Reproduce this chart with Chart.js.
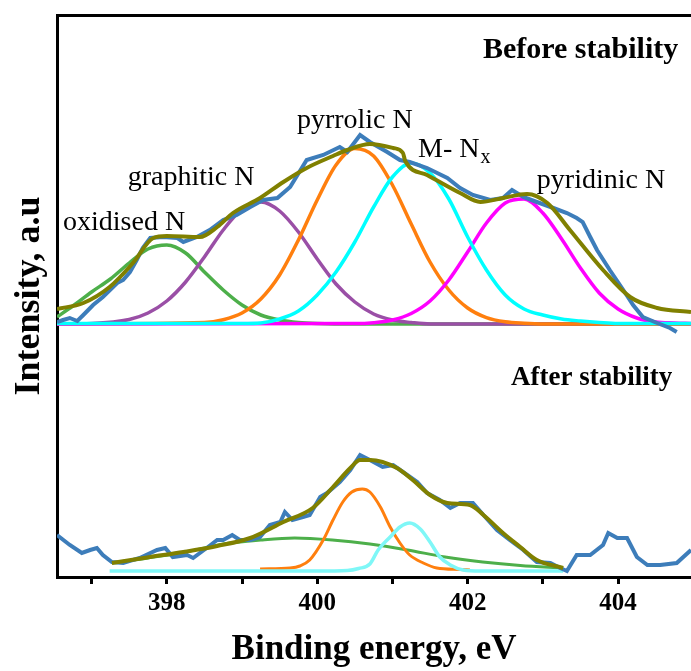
<!DOCTYPE html>
<html>
<head>
<meta charset="utf-8">
<script src="https://cdn.jsdelivr.net/npm/chart.js@4.4.1/dist/chart.umd.min.js"></script>
<style>
html,body{margin:0;padding:0;background:#ffffff;}
#wrap{width:691px;height:671px;}
</style>
</head>
<body>
<div id="wrap"><canvas id="c" width="691" height="671"></canvas></div>
<script>
// ---------- tick labels ----------
const energyTickLabels = [398, 400, 402, 404];

// ---------- BEFORE stability (upper spectrum) ----------
const beforeRawE = [396.54,396.62,396.71,396.81,396.89,397.02,397.15,397.34,397.42,397.51,397.60,397.68,397.78,397.95,398.14,398.22,398.40,398.57,398.75,398.93,399.11,399.28,399.47,399.64,399.86,400.08,400.30,400.40,400.57,400.70,400.93,401.10,401.23,401.46,401.73,401.90,402.07,402.30,402.47,402.59,402.74,402.92,403.14,403.32,403.45,403.53,403.63,403.72,403.89,404.07,404.20,404.33,404.52,404.69,404.78];
const beforeRawI = [255,257,259,256,262,272,280,294,297,305,317,329,339,340,339,335,340,347,357,362,370,377,379,390,417,422,430,425,442,435,425,417,415,409,399,389,382,377,379,387,380,375,369,364,359,355,340,327,307,287,272,260,254,249,245];

const beforeFitE = [396.54,396.89,397.24,397.55,397.82,398.00,398.44,398.67,398.88,399.24,399.55,399.86,400.21,400.40,400.70,401.01,401.14,401.17,401.46,401.90,402.17,402.47,402.79,403.06,403.36,403.80,404.16,404.52,404.97];
const beforeFitI = [268,274,290,314,339,341,340,350,364,379,395,409,421,427,433,429,424,416,402,384,375,379,383,374,347,307,280,269,265];

const beforeOxidisedE = [396.54,396.75,397.0,397.25,397.5,397.75,398.0,398.25,398.5,398.75,399.0,399.25,399.5,399.75,400.0,400.5,401.5,403.0,404.97];
const beforeOxidisedI = [260,271,285,298,314,328,332,324,305,287,272,262,257,254.5,253.5,253,253,253,253];

const beforeGraphiticE = [396.54,397.0,397.5,397.75,398.0,398.25,398.5,398.75,399.0,399.25,399.5,399.75,400.0,400.25,400.5,400.75,401.0,401.25,401.5,403.0,404.97];
const beforeGraphiticI = [253,253.5,257.5,264,276,295,320,347,368,375,366,345,318,293,275,263,257,254.5,253,253,253];

const beforePyrrolicE = [396.54,398.5,398.75,399.0,399.25,399.5,399.75,400.0,400.25,400.5,400.75,401.0,401.25,401.5,401.75,402.0,402.25,402.5,402.75,403.0,404.97];
const beforePyrrolicI = [253,254.4,257.3,264,278,302,337,377,412,428.5,421,392,353,315,287,269,259.4,255.2,253.7,253,253];

const beforeMNxE = [396.54,399.0,399.25,399.5,399.75,400.0,400.25,400.5,400.75,401.0,401.25,401.5,401.75,402.0,402.25,402.5,402.75,403.0,403.25,403.5,403.75,404.0,404.97];
const beforeMNxI = [253.5,253.5,254,258,266,282,305,335,370,400,414,404,378,340,307,282,268,262,258,256,254.5,253.5,253.5];

const beforePyridinicE = [396.54,400.5,400.75,401.0,401.25,401.5,401.75,402.0,402.25,402.5,402.75,403.0,403.25,403.5,403.75,404.0,404.25,404.5,404.75,404.97];
const beforePyridinicI = [253,253.4,254.3,257,263.5,276,297,325,354,374,378,364,338,309,284,268,259,255,254,253.5];

// ---------- AFTER stability (lower spectrum) ----------
const afterRawE = [396.54,396.71,396.87,396.98,397.07,397.15,397.27,397.42,397.64,397.87,397.98,398.08,398.27,398.35,398.53,398.67,398.75,398.87,398.97,399.11,399.24,399.37,399.51,399.57,399.67,399.81,399.90,400.04,400.13,400.30,400.44,400.57,400.70,400.87,401.01,401.14,401.33,401.46,401.63,401.77,401.90,402.07,402.21,402.39,402.56,402.74,402.92,403.10,403.23,403.32,403.45,403.63,403.80,403.87,403.99,404.12,404.25,404.39,404.56,404.78,404.97];
const afterRawI = [42,32,24,27,29,22,15,14,19,27,29,20,22,19,29,37,37,42,37,37,40,52,55,65,57,60,62,80,84,95,107,122,117,110,112,105,95,84,77,69,74,74,62,47,37,27,15,14,9,6,22,22,32,44,39,39,20,12,12,14,27];

const afterFitE = [397.27,397.78,398.22,398.67,399.11,399.55,399.94,400.21,400.44,400.57,400.70,401.06,401.27,401.50,401.73,402.03,402.21,402.47,402.70,402.92,403.27];
const afterFitI = [14,20,25,31,39,55,69,90,109,117,117,109,97,82,74,72,62,44,30,17,9];

const afterBroadE = [397.27,397.75,398.25,398.75,399.25,399.7,400.2,400.7,401.2,401.7,402.2,402.7,403.27];
const afterBroadI = [14,19,25,33,37,39,37,33,27,20,15,11.5,9];

const afterPyrrolicE = [399.24,399.64,399.77,399.90,400.08,400.21,400.34,400.46,400.60,400.70,400.84,400.97,401.10,401.23,401.41,401.59,401.90,402.03];
const afterPyrrolicI = [8,9,11,17,37,57,75,85,88,85,70,50,34,22,14,9,7.5,7];

const afterMNxE = [397.24,400.0,400.4,400.55,400.7,400.81,400.97,401.1,401.23,401.37,401.5,401.63,401.77,401.94,402.17,403.27];
const afterMNxI = [6,6,6.5,8.5,13,27,40,50,54,48,35,20,12,7,6,6];

// ---------- helpers ----------
function pts(xs, ys) { return xs.map((v, i) => ({ x: v, y: ys[i] })); }
function line(label, xs, ys, color, width, order, smooth) {
  return {
    label, data: pts(xs, ys), borderColor: color, backgroundColor: color,
    borderWidth: width, pointRadius: 0, fill: false, order,
    tension: smooth ? 0.4 : 0, cubicInterpolationMode: smooth ? 'monotone' : 'default',
    xAxisID: 'x', yAxisID: 'y'
  };
}

const serif = '"Liberation Serif", "Times New Roman", serif';

// text annotations (energy / intensity anchor, left-aligned baseline)
const peakLabels = {
  text: ['oxidised N', 'graphitic N', 'pyrrolic N', 'pyridinic N'],
  atE: [396.62, 397.48, 399.73, 402.92],
  atI: [347, 392, 449, 389]
};
const mnxLabel = { main: 'M- N', sub: 'x', atE: 401.34, atI: 420 };
const panelLabels = {
  text: ['Before stability', 'After stability'],
  atE: [404.80, 404.72],
  atI: [519, 192],
  size: [30, 27]
};

const labelPlugin = {
  id: 'labelPlugin',
  afterDatasetsDraw(chart) {
    const { ctx, scales } = chart;
    const sx = scales.x, sy = scales.y;
    ctx.save();
    ctx.fillStyle = '#000';
    ctx.textBaseline = 'alphabetic';
    ctx.textAlign = 'left';
    ctx.font = '28px ' + serif;
    peakLabels.text.forEach((t, i) => {
      ctx.fillText(t, sx.getPixelForValue(peakLabels.atE[i]), sy.getPixelForValue(peakLabels.atI[i]));
    });
    const mx = sx.getPixelForValue(mnxLabel.atE), my = sy.getPixelForValue(mnxLabel.atI);
    ctx.fillText(mnxLabel.main, mx, my);
    const w = ctx.measureText(mnxLabel.main).width;
    ctx.font = '20px ' + serif;
    ctx.fillText(mnxLabel.sub, mx + w + 1, my + 6);
    ctx.textAlign = 'right';
    panelLabels.text.forEach((t, i) => {
      ctx.font = 'bold ' + panelLabels.size[i] + 'px ' + serif;
      ctx.fillText(t, sx.getPixelForValue(panelLabels.atE[i]), sy.getPixelForValue(panelLabels.atI[i]));
    });
    ctx.restore();
  }
};

const datasets = [
  line('Before fit', beforeFitE, beforeFitI, '#808000', 4, 0, true),
  line('Before raw', beforeRawE, beforeRawI, '#3D7DBA', 4, 1, false),
  line('M-Nx', beforeMNxE, beforeMNxI, '#00FFFF', 3.5, 2, true),
  line('pyridinic N', beforePyridinicE, beforePyridinicI, '#FF00FF', 3.5, 3, true),
  line('pyrrolic N', beforePyrrolicE, beforePyrrolicI, '#FF7F0E', 3.5, 4, true),
  line('graphitic N', beforeGraphiticE, beforeGraphiticI, '#9A4FA6', 3.5, 5, true),
  line('oxidised N', beforeOxidisedE, beforeOxidisedI, '#4DAF4A', 3.5, 6, true),
  line('After fit', afterFitE, afterFitI, '#808000', 4, 0, true),
  line('After raw', afterRawE, afterRawI, '#3D7DBA', 4, 1, false),
  line('After M-Nx', afterMNxE, afterMNxI, '#7FF7F7', 3.5, 2, true),
  line('After pyrrolic', afterPyrrolicE, afterPyrrolicI, '#FF7F0E', 3, 3, true),
  line('After broad', afterBroadE, afterBroadI, '#4DAF4A', 3, 4, true)
];

new Chart(document.getElementById('c'), {
  type: 'line',
  data: { datasets },
  plugins: [labelPlugin],
  options: {
    responsive: false,
    animation: false,
    layout: { padding: { top: 15, left: 0, right: 0, bottom: 0 } },
    plugins: { legend: { display: false }, tooltip: { enabled: false } },
    scales: {
      x: {
        type: 'linear', position: 'bottom', min: 396.54, max: 404.97,
        ticks: {
          stepSize: 1, autoSkip: false, includeBounds: false, maxRotation: 0, padding: 5,
          color: '#000', font: { family: serif, size: 25, weight: 'bold' },
          callback: (v) => energyTickLabels.some(t => Math.abs(t - v) < 1e-6) ? String(Math.round(v)) : ''
        },
        grid: { display: true, drawOnChartArea: false, drawTicks: true, tickLength: 7, tickWidth: 3, tickColor: '#000' },
        border: { display: true, color: '#000', width: 3 },
        title: { display: true, text: 'Binding energy, eV', color: '#000', font: { family: serif, size: 35, weight: 'bold' }, padding: { top: 0, bottom: 0 } },
        afterFit: (s) => { s.height = 94; }
      },
      xTop: {
        type: 'linear', position: 'top', min: 396.54, max: 404.97,
        ticks: { display: false },
        grid: { display: false },
        border: { display: true, color: '#000', width: 3 },
        afterFit: (s) => { s.height = 0; }
      },
      y: {
        type: 'linear', position: 'left', min: 0, max: 562,
        ticks: { display: false },
        grid: { display: false },
        border: { display: true, color: '#000', width: 3 },
        title: { display: true, text: 'Intensity, a.u', color: '#000', font: { family: serif, size: 36, weight: 'bold' }, padding: { top: 8, bottom: 0 } },
        afterFit: (s) => { s.width = 57; }
      }
    }
  }
});
</script>
</body>
</html>
